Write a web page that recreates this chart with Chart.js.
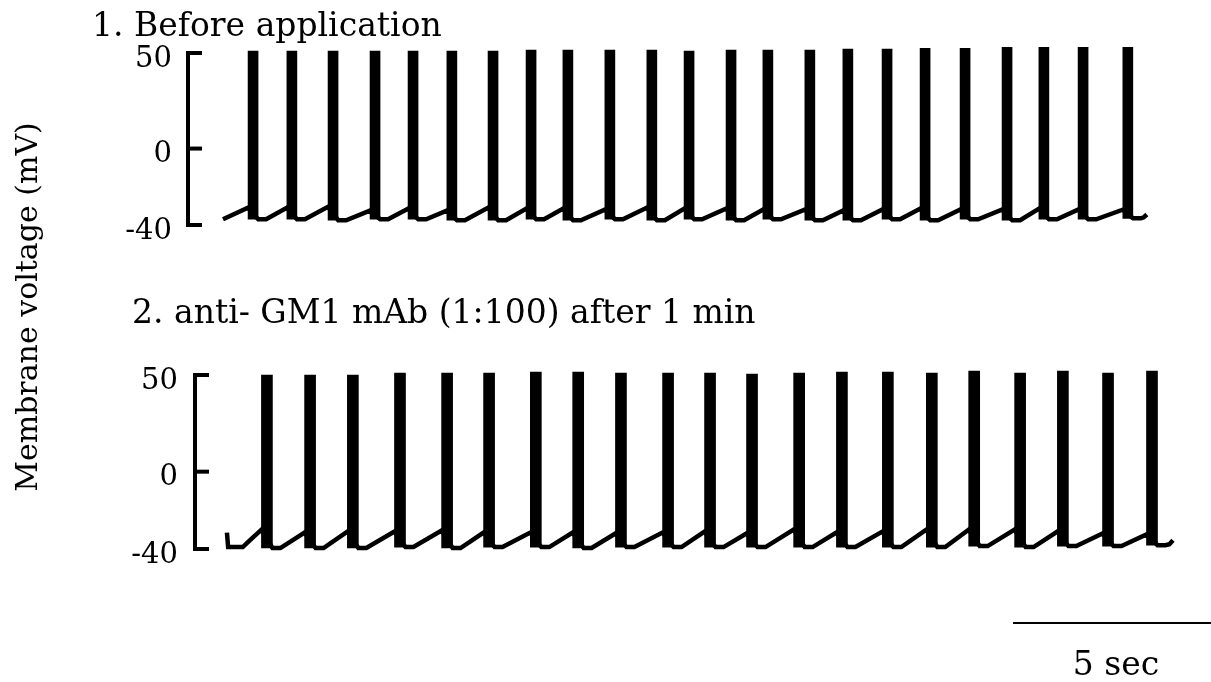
<!DOCTYPE html>
<html>
<head>
<meta charset="utf-8">
<title>Membrane voltage</title>
<script src="https://cdn.jsdelivr.net/npm/chart.js@4.4.1/dist/chart.umd.min.js"></script>
<style>
  body { margin: 0; background: #fff; }
  .panel { position: absolute; left: 0; top: 0; }
</style>
</head>
<body>
<canvas id="topChart" class="panel" width="1211" height="682"></canvas>
<canvas id="bottomChart" class="panel" width="1211" height="682"></canvas>
<script>
const yTicks = [50, 0, -40];

// 1. Before application: spike times (s), spike peak, pre-spike level, post-spike trough (mV)
const topSpikeTimes = [0.81, 1.79, 2.83, 3.89, 4.85, 5.83, 6.87, 7.83, 8.76, 9.82, 10.88, 11.82,
  12.88, 13.81, 14.87, 15.83, 16.82, 17.78, 18.79, 19.85, 20.78, 21.77, 22.90];
const topPeaks = [51, 51, 51, 51, 51, 51, 51, 51.5, 51.5, 51.5, 51.5, 51,
  51.5, 51.5, 51.5, 52, 52, 52.5, 52.5, 53, 53, 53, 53];
const topPre = [-31, -31, -30.5, -32.5, -31.5, -32.5, -31, -31.5, -31.5, -32, -31, -31.5,
  -31.5, -32, -32, -32.5, -32, -31.5, -32, -32, -31.5, -32, -32];
const topTrough = [-37, -37, -37.5, -37, -37, -37.5, -37.5, -37, -37.5, -37, -37.5, -37,
  -37.5, -37, -37.5, -37.5, -37, -37.5, -37, -37.5, -37, -37, -36.5];
const topStart = [[0.05, -37]];
const topEnd = [[23.3, -36], [23.38, -34.5]];

// 2. anti-GM1 mAb (1:100) after 1 min
const botSpikeTimes = [1.16, 2.25, 3.33, 4.52, 5.71, 6.77, 7.95, 9.02, 10.10, 11.29, 12.35,
  13.41, 14.60, 15.68, 16.84, 17.95, 19.02, 20.18, 21.26, 22.40, 23.51];
const botPeaks = [50, 50, 50, 51, 51, 51, 51.5, 51.5, 51, 51, 51,
  50.5, 51, 51.5, 51.5, 51, 52, 51, 52, 51, 52];
const botPre = [-30, -31.5, -31, -31, -30.5, -31.5, -31.5, -31.5, -32, -31.5, -31,
  -32, -30, -31.5, -31, -30, -30, -30, -31, -32, -32.5];
const botTrough = [-39.5, -39.5, -39.5, -39, -39.5, -39, -39, -39.5, -39, -39, -39,
  -39, -39, -39, -39, -39, -38.5, -39, -38.5, -38.5, -38];
const botStart = [[0.15, -31.5], [0.18, -39], [0.55, -39], [0.7, -36]];
const botEnd = [[23.95, -37.5], [24.04, -35.5]];

const scaleBarSec = 5;
const FONT = '"DejaVu Serif", serif';

// subthreshold trace: ramp up to each spike, drop to the trough after it
function buildTrace(start, times, pre, trough, end, halfWidth) {
  const pts = start.map(p => ({ x: p[0], y: p[1] }));
  times.forEach((t, i) => {
    pts.push({ x: t - halfWidth, y: pre[i] });
    pts.push({ x: t + halfWidth, y: trough[i] });
    pts.push({ x: t + halfWidth + 0.2, y: trough[i] });
  });
  end.forEach(p => pts.push({ x: p[0], y: p[1] }));
  return pts;
}

function buildSpikes(times, trough, peaks) {
  return times.map((t, i) => ({ x: t, y: [trough[i], peaks[i]] }));
}

const panelDecor = {
  id: 'panelDecor',
  afterDraw(chart, args, opts) {
    const ctx = chart.ctx;
    const ys = chart.scales.y;
    const xs = chart.scales.x;
    const ax = opts.axisX;
    ctx.save();
    ctx.strokeStyle = '#000';
    ctx.fillStyle = '#000';
    ctx.lineWidth = 4;
    ctx.lineJoin = 'miter';

    // bracket-style voltage axis
    const yTop = ys.getPixelForValue(yTicks[0]);
    const yBot = ys.getPixelForValue(yTicks[yTicks.length - 1]);
    ctx.beginPath();
    ctx.moveTo(ax + 14, yTop);
    ctx.lineTo(ax, yTop);
    ctx.lineTo(ax, yBot);
    ctx.lineTo(ax + 14, yBot);
    ctx.stroke();
    yTicks.slice(1, -1).forEach(v => {
      const py = ys.getPixelForValue(v);
      ctx.beginPath();
      ctx.moveTo(ax, py);
      ctx.lineTo(ax + 14, py);
      ctx.stroke();
    });

    ctx.font = '29px ' + FONT;
    ctx.textAlign = 'right';
    ctx.textBaseline = 'middle';
    yTicks.forEach(v => {
      ctx.fillText(String(v), opts.labelRight, ys.getPixelForValue(v) + 6);
    });

    ctx.font = '33px ' + FONT;
    ctx.textAlign = 'left';
    ctx.textBaseline = 'alphabetic';
    ctx.fillText(opts.title, opts.titleX, opts.titleY);

    if (opts.yLabel) {
      ctx.save();
      ctx.font = '30px ' + FONT;
      ctx.translate(37, 307);
      ctx.rotate(-Math.PI / 2);
      ctx.textAlign = 'center';
      ctx.fillText(opts.yLabel, 0, 0);
      ctx.restore();
    }

    if (opts.scaleBar) {
      const x1 = xs.getPixelForValue(xs.max - scaleBarSec);
      const x2 = xs.getPixelForValue(xs.max);
      ctx.lineWidth = 2;
      ctx.beginPath();
      ctx.moveTo(x1, 623);
      ctx.lineTo(x2, 623);
      ctx.stroke();
      ctx.textAlign = 'center';
      ctx.fillText(scaleBarSec + ' sec', (x1 + x2) / 2 + 4, 675);
    }
    ctx.restore();
  }
};

function makePanel(canvasId, trace, spikes, barWidth, padding, decor) {
  return new Chart(document.getElementById(canvasId), {
    type: 'line',
    data: {
      datasets: [
        {
          type: 'bar',
          data: spikes,
          backgroundColor: '#000',
          borderWidth: 0,
          barThickness: barWidth,
          clip: false,
          order: 0
        },
        {
          type: 'line',
          data: trace,
          borderColor: '#000',
          borderWidth: 4.5,
          pointRadius: 0,
          tension: 0,
          clip: false,
          order: 1
        }
      ]
    },
    options: {
      responsive: false,
      animation: false,
      layout: { padding: padding },
      scales: {
        x: { type: 'linear', min: 0, max: 25, display: false, offset: false },
        y: { min: -40, max: 50, display: false }
      },
      plugins: {
        legend: { display: false },
        tooltip: { enabled: false },
        panelDecor: decor
      }
    },
    plugins: [panelDecor]
  });
}

makePanel('topChart',
  buildTrace(topStart, topSpikeTimes, topPre, topTrough, topEnd, 0.13),
  buildSpikes(topSpikeTimes, topTrough, topPeaks),
  10,
  { left: 221, right: 0, top: 53, bottom: 682 - 225 },
  { axisX: 188, labelRight: 172, title: '1. Before application', titleX: 92, titleY: 36,
    yLabel: 'Membrane voltage (mV)' });

makePanel('bottomChart',
  buildTrace(botStart, botSpikeTimes, botPre, botTrough, botEnd, 0.14),
  buildSpikes(botSpikeTimes, botTrough, botPeaks),
  11,
  { left: 221, right: 0, top: 375, bottom: 682 - 549 },
  { axisX: 195, labelRight: 178, title: '2. anti- GM1 mAb (1:100) after 1 min', titleX: 132, titleY: 323,
    scaleBar: true });
</script>
</body>
</html>
